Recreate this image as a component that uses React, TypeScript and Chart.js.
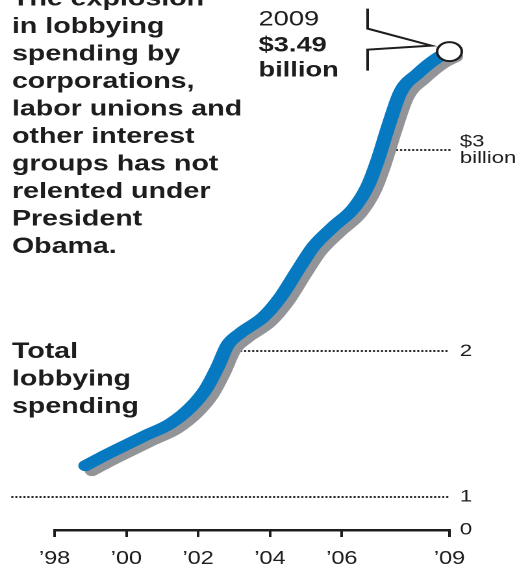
import React, { useEffect, useRef } from 'react';
import { Chart, registerables } from 'chart.js';

Chart.register(...registerables);

// ---- data ----
const years = [
  1998.86, 1999.28, 1999.84, 2000.53, 2001.23, 2001.79, 2002.21, 2002.54,
  2002.82, 2003.18, 2003.82, 2004.3, 2004.8, 2005.21, 2005.77,
  2006.33, 2006.72, 2007.0, 2007.3, 2007.64, 2008.11, 2008.67, 2009.0,
];
const spending = [
  1.43, 1.47, 1.52, 1.58, 1.64, 1.72, 1.81, 1.92,
  2.03, 2.09, 2.17, 2.27, 2.41, 2.52, 2.62,
  2.71, 2.82, 2.95, 3.12, 3.29, 3.38, 3.46, 3.49,
];
const xTickYears = [1998, 2000, 2002, 2004, 2006, 2009];
const xTickLabels = ['\u201998', '\u201900', '\u201902', '\u201904', '\u201906', '\u201909'];
// broken value axis: "0" and "1" are compressed at the bottom of the graphic
const yTickValues = [1.11, 1.275, 2, 3];
const yTickLabels: (string | string[])[] = ['0', '1', '2', ['$3', 'billion']];
const yMin = 1.11;
const yMax = 3.6;
const headline = [
  'The explosion', 'in lobbying', 'spending by', 'corporations,',
  'labor unions and', 'other interest', 'groups has not', 'relented under',
  'President', 'Obama.',
];
const seriesLabel = ['Total', 'lobbying', 'spending'];
const calloutYear = '2009';
const calloutValue = '$3.49';
const calloutUnit = 'billion';

// ---- styles ----
const FONT = '"Liberation Sans", Arial, Helvetica, sans-serif';
const INK = '#1e1c1d';
const BLUE = '#0679c1';
const GREY = '#929497';
const LOGICAL_W = 398; // graphic is stretched horizontally to 517px
const H = 567;
const SHADOW_DX = 5;
const SHADOW_DY = 5;
const LINE_W = 11;

const shadowPlugin = {
  id: 'shadowOffset',
  beforeDatasetDraw(chart: any, args: any) {
    if (args.index === 1) {
      chart.ctx.save();
      chart.ctx.translate(SHADOW_DX, SHADOW_DY);
    }
  },
  afterDatasetDraw(chart: any, args: any) {
    if (args.index === 1) chart.ctx.restore();
  },
};

const dottedGridPlugin = {
  id: 'dottedGrid',
  beforeDatasetsDraw(chart: any) {
    const { ctx, chartArea, scales } = chart;
    const y = scales.y;
    const pts = chart.getDatasetMeta(0).data;
    ctx.save();
    ctx.strokeStyle = INK;
    ctx.lineWidth = 2;
    ctx.lineCap = 'round';
    ctx.setLineDash([0, 3.1]);
    y.ticks.forEach((t: any) => {
      if (t.value === y.min) return;
      const py = y.getPixelForValue(t.value);
      let startX = 9.5;
      for (let i = 0; i < pts.length - 1; i++) {
        const a = pts[i], b = pts[i + 1];
        if ((a.y - py) * (b.y - py) <= 0 && a.y !== b.y) {
          const cx = a.x + ((py - a.y) / (b.y - a.y)) * (b.x - a.x);
          startX = cx + LINE_W / 2 + SHADOW_DX + 2;
          break;
        }
      }
      ctx.beginPath();
      ctx.moveTo(startX, Math.round(py));
      ctx.lineTo(chartArea.right, Math.round(py));
      ctx.stroke();
    });
    ctx.restore();
  },
};

const textPlugin = {
  id: 'texts',
  afterDraw(chart: any) {
    const { ctx } = chart;
    ctx.save();
    ctx.fillStyle = INK;
    ctx.textAlign = 'left';
    ctx.textBaseline = 'alphabetic';
    ctx.font = `bold 22px ${FONT}`;
    headline.forEach((t, i) => ctx.fillText(t, 9.2, 5.5 + i * 27.5));
    seriesLabel.forEach((t, i) => ctx.fillText(t, 9.2, 358 + i * 27.5));

    const meta = chart.getDatasetMeta(0);
    const p = meta.data[meta.data.length - 1];
    // callout
    ctx.font = `21px ${FONT}`;
    ctx.fillText(calloutYear, p.x - 147, p.y - 26);
    ctx.font = `bold 21px ${FONT}`;
    ctx.fillText(calloutValue, p.x - 147, p.y);
    ctx.fillText(calloutUnit, p.x - 147, p.y + 25);
    ctx.strokeStyle = INK;
    ctx.lineWidth = 2;
    ctx.lineJoin = 'miter';
    ctx.beginPath();
    ctx.moveTo(p.x - 63, p.y - 43);
    ctx.lineTo(p.x - 63, p.y - 23);
    ctx.lineTo(p.x - 14, p.y - 6);
    ctx.lineTo(p.x - 63, p.y - 2);
    ctx.lineTo(p.x - 63, p.y + 19);
    ctx.stroke();
    ctx.restore();
  },
};

export default function App() {
  const ref = useRef<HTMLCanvasElement>(null);

  useEffect(() => {
    if (!ref.current) return;
    const pts = years.map((x, i) => ({ x, y: spending[i] }));
    const last = pts.length - 1;
    const chart = new Chart(ref.current, {
      type: 'line',
      data: {
        datasets: [
          {
            label: 'Total lobbying spending',
            data: pts,
            borderColor: BLUE,
            borderWidth: LINE_W,
            borderCapStyle: 'round',
            borderJoinStyle: 'round',
            cubicInterpolationMode: 'monotone',
            clip: false as any,
            pointRadius: (c: any) => (c.dataIndex === last ? 9.5 : 0),
            pointBackgroundColor: '#ffffff',
            pointBorderColor: INK,
            pointBorderWidth: 2,
            pointHoverRadius: 0,
          },
          {
            label: 'shadow',
            data: pts,
            borderColor: GREY,
            borderWidth: LINE_W,
            borderCapStyle: 'round',
            borderJoinStyle: 'round',
            cubicInterpolationMode: 'monotone',
            clip: false as any,
            pointRadius: 0,
            pointHoverRadius: 0,
          },
        ],
      },
      options: {
        responsive: false,
        devicePixelRatio: 2,
        animation: false,
        events: [],
        layout: { padding: { left: 42, top: 29.5, right: 0, bottom: 0 } },
        plugins: {
          legend: { display: false },
          tooltip: { enabled: false },
          title: { display: false },
        },
        scales: {
          x: {
            type: 'linear',
            min: 1998,
            max: 2009,
            afterBuildTicks: (s: any) => {
              s.ticks = xTickYears.map((v) => ({ value: v }));
            },
            afterFit: (s: any) => {
              s.height = 37;
            },
            ticks: {
              autoSkip: false,
              maxRotation: 0,
              padding: 11,
              color: INK,
              font: { family: FONT, size: 18 },
              callback: (_v: any, i: number) => xTickLabels[i],
            },
            grid: {
              drawOnChartArea: false,
              drawTicks: true,
              tickLength: 7,
              color: INK,
              lineWidth: 2,
            },
            border: { display: true, color: INK, width: 2.5 },
          },
          y: {
            type: 'linear',
            position: 'right',
            min: yMin,
            max: yMax,
            afterBuildTicks: (s: any) => {
              s.ticks = yTickValues.map((v) => ({ value: v }));
            },
            afterFit: (s: any) => {
              s.width = 52;
            },
            ticks: {
              autoSkip: false,
              padding: 8,
              color: INK,
              font: { family: FONT, size: 17, lineHeight: 0.95 },
              callback: (_v: any, i: number) => yTickLabels[i] as any,
            },
            grid: { display: false, drawTicks: false },
            border: { display: false },
          },
        },
      } as any,
      plugins: [shadowPlugin, dottedGridPlugin, textPlugin],
    });
    return () => chart.destroy();
  }, []);

  return (
    <div style={{ position: 'absolute', left: 0, top: 0, width: 517, height: H, background: '#fff' }}>
      <canvas
        ref={ref}
        width={LOGICAL_W}
        height={H}
        style={{ width: '517px', height: `${H}px`, display: 'block' }}
      />
    </div>
  );
}
